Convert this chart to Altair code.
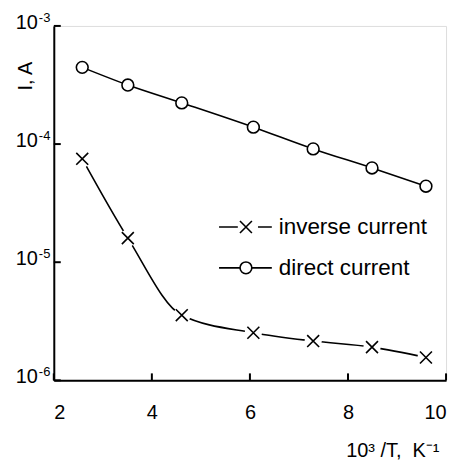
import altair as alt
import pandas as pd

# data
x_vals = [2.58, 3.51, 4.61, 6.07, 7.29, 8.49, 9.59]
direct_current = [4.46e-4, 3.16e-4, 2.23e-4, 1.39e-4, 9.1e-5, 6.28e-5, 4.4e-5]
inverse_current = [7.5e-5, 1.6e-5, 3.56e-6, 2.53e-6, 2.15e-6, 1.91e-6, 1.56e-6]
y_ticks = [1e-3, 1e-4, 1e-5, 1e-6]
y_exponents = ["-3", "-4", "-5", "-6"]
x_ticks = [2, 4, 6, 8, 10]

FONT = "Liberation Sans"
W, H = 394, 356
CROSS = "M-1,-1L1,1M-1,1L1,-1"

df = pd.DataFrame({
    "x": x_vals * 2,
    "I": direct_current + inverse_current,
    "series": ["direct current"] * 7 + ["inverse current"] * 7,
})
direct = pd.DataFrame({"x": x_vals, "I": direct_current})
inverse = pd.DataFrame({"x": x_vals, "I": inverse_current})
yt = pd.DataFrame({"I": y_ticks, "exp": y_exponents})
xt = pd.DataFrame({"x": x_ticks})

xs = alt.Scale(domain=[2, 10], nice=False, zero=False)
ys = alt.Scale(type="log", domain=[1e-6, 1e-3], nice=False)

X = alt.X("x:Q", scale=xs, axis=alt.Axis(
    values=x_ticks, ticks=False, grid=False, labelFontSize=20, labelFont=FONT,
    labelColor="black", labelPadding=22, domainColor="black", domainWidth=2,
    title="10³\u00a0/T,\u00a0\u00a0K⁻¹", titleFont=FONT, titleFontSize=20, titleFontWeight="normal",
    titleX=340, titleY=70, titleAlign="center", titleBaseline="middle", titleColor="black"))
Y = alt.Y("I:Q", scale=ys, axis=alt.Axis(
    values=y_ticks, ticks=False, labels=False, grid=False, domainColor="black", domainWidth=2,
    title="I, A", titleFont=FONT, titleFontSize=20, titleFontWeight="normal", titleAngle=270,
    titleX=-28, titleY=50, titleAlign="center", titleBaseline="middle", titleColor="black"))

lines = alt.Chart(df).mark_line(color="black", strokeWidth=1.6, interpolate="monotone").encode(
    x=X, y=Y, detail="series:N")
inv_bg = alt.Chart(inverse).mark_point(shape="circle", filled=True, color="white", opacity=1, size=300).encode(
    x=alt.X("x:Q", scale=xs), y=alt.Y("I:Q", scale=ys))
inv_pts = alt.Chart(inverse).mark_point(shape=CROSS, filled=False, color="black", strokeWidth=1.6, size=144, opacity=1).encode(
    x=alt.X("x:Q", scale=xs), y=alt.Y("I:Q", scale=ys))
dir_pts = alt.Chart(direct).mark_point(shape="circle", filled=False, fill="white", fillOpacity=1, stroke="black", strokeWidth=1.6, size=140, opacity=1).encode(
    x=alt.X("x:Q", scale=xs), y=alt.Y("I:Q", scale=ys))

ytick_marks = alt.Chart(yt).mark_rule(color="black", strokeWidth=2).encode(
    y=alt.Y("I:Q", scale=ys), x=alt.value(0), x2=alt.value(7))
xtick_marks = alt.Chart(xt).mark_rule(color="black", strokeWidth=2).encode(
    x=alt.X("x:Q", scale=xs), y=alt.value(H), y2=alt.value(H - 7))
ylab_base = alt.Chart(yt).mark_text(align="right", baseline="middle", dy=-3, fontSize=20, font=FONT, color="black").encode(
    y=alt.Y("I:Q", scale=ys), x=alt.value(-16), text=alt.value("10"))
ylab_exp = alt.Chart(yt).mark_text(align="left", baseline="middle", dy=-8, fontSize=13, font=FONT, color="black").encode(
    y=alt.Y("I:Q", scale=ys), x=alt.value(-15), text="exp:N")

# legend
leg = []
rows = [("inverse current", 202, "cross"), ("direct current", 243, "circle")]
for label, yy, kind in rows:
    base = alt.Chart(pd.DataFrame({"label": [label]}))
    leg.append(base.mark_rule(color="black", strokeWidth=1.6).encode(
        x=alt.value(166), x2=alt.value(219), y=alt.value(yy)))
    if kind == "cross":
        leg.append(base.mark_point(shape="circle", filled=True, color="white", opacity=1, size=420).encode(
            x=alt.value(195), y=alt.value(yy)))
        leg.append(base.mark_point(shape=CROSS, filled=False, color="black", strokeWidth=1.6, size=144, opacity=1).encode(
            x=alt.value(193), y=alt.value(yy)))
    else:
        leg.append(base.mark_point(shape="circle", filled=False, fill="white", fillOpacity=1, stroke="black", strokeWidth=1.6, size=140, opacity=1).encode(
            x=alt.value(193), y=alt.value(yy)))
    leg.append(base.mark_text(align="left", baseline="middle", fontSize=22.5, font=FONT, color="black").encode(
        x=alt.value(226), y=alt.value(yy), text="label:N"))

chart = alt.layer(lines, inv_bg, inv_pts, dir_pts, ytick_marks, xtick_marks, ylab_base, ylab_exp, *leg).properties(
    width=W, height=H,
    autosize=alt.AutoSizeParams(type="none"),
    padding={"left": 46, "top": 17, "right": 10, "bottom": 80},
).configure_view(stroke=None).configure(background="white")

chart.save("out.html", embed_options={"renderer": "svg", "actions": False})
